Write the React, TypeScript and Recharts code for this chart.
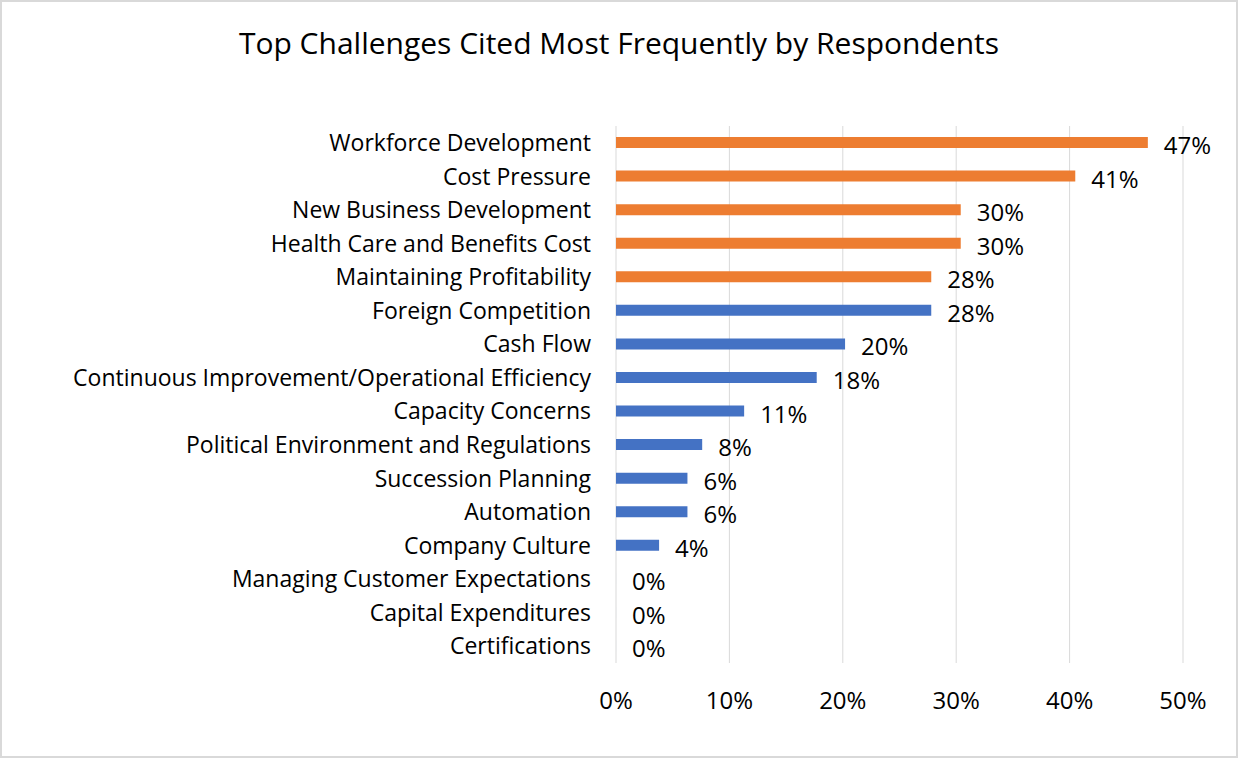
import React from 'react';
import { BarChart, Bar, XAxis, YAxis, CartesianGrid, Cell, LabelList } from 'recharts';

// challenges, ordered as in the chart (top to bottom)
const categories = [
  'Workforce Development',
  'Cost Pressure',
  'New Business Development',
  'Health Care and Benefits Cost',
  'Maintaining Profitability',
  'Foreign Competition',
  'Cash Flow',
  'Continuous Improvement/Operational Efficiency',
  'Capacity Concerns',
  'Political Environment and Regulations',
  'Succession Planning',
  'Automation',
  'Company Culture',
  'Managing Customer Expectations',
  'Capital Expenditures',
  'Certifications',
];

// share of respondents, in percent
const shares = [46.9, 40.5, 30.4, 30.4, 27.8, 27.8, 20.2, 17.7, 11.3, 7.6, 6.3, 6.3, 3.8, 0, 0, 0];

// 'top' = the five most cited challenges
const groups = [
  'top', 'top', 'top', 'top', 'top',
  'other', 'other', 'other', 'other', 'other', 'other', 'other', 'other', 'other', 'other', 'other',
];

const xTicks = [0, 10, 20, 30, 40, 50];

const GROUP_COLORS: Record<string, string> = {
  top: '#ED7D31',
  other: '#4472C4',
};

const FONT = '"Open Sans", sans-serif';

const data = categories.map((name, i) => ({ name, value: shares[i], group: groups[i] }));

// value label drawn just right of the bar end (also for zero-length bars)
const ValueLabel = (props: any) => {
  const { x, y, width, height, value } = props;
  if (value == null) return null;
  return (
    <text
      x={Number(x) + Number(width || 0) + 16}
      y={Number(y) + Number(height) / 2 + 2}
      dominantBaseline="central"
      fill="#000"
      fontSize={24}
      fontFamily={FONT}
    >
      {`${Math.round(Number(value))}%`}
    </text>
  );
};

export default function App() {
  return (
    <div style={{ position: 'absolute', left: 0, top: 0, width: 1238, height: 758, background: '#fff', fontFamily: FONT }}>
      <div
        style={{
          position: 'absolute',
          top: 22,
          left: 0,
          width: 1238,
          textAlign: 'center',
          fontSize: 30,
          lineHeight: '42px',
          color: '#000',
        }}
      >
        Top Challenges Cited Most Frequently by Respondents
      </div>
      <BarChart
        width={1238}
        height={758}
        data={data}
        layout="vertical"
        margin={{ top: 126, right: 55, bottom: 35, left: 0 }}
      >
        <CartesianGrid horizontal={false} stroke="#d9d9d9" />
        <XAxis
          type="number"
          domain={[0, 50]}
          ticks={xTicks}
          tickFormatter={v => `${v}%`}
          axisLine={false}
          tickLine={false}
          tickSize={0}
          tickMargin={29}
          height={60}
          tick={{ fill: '#000', fontSize: 24, fontFamily: FONT }}
        />
        <YAxis
          type="category"
          dataKey="name"
          width={616}
          axisLine={false}
          tickLine={false}
          tickSize={0}
          tickMargin={25}
          interval={0}
          tick={{ fill: '#000', fontSize: 23, fontFamily: FONT }}
        />
        <Bar dataKey="value" barSize={11} minPointSize={0.01} isAnimationActive={false}>
          {data.map((d, i) => (
            <Cell key={`cell-${i}`} fill={GROUP_COLORS[d.group]} />
          ))}
          <LabelList dataKey="value" content={ValueLabel} />
        </Bar>
      </BarChart>
      {/* chart frame */}
      <div
        style={{
          position: 'absolute',
          left: 0,
          top: 0,
          width: 1238,
          height: 758,
          boxSizing: 'border-box',
          border: '2px solid #d9d9d9',
          pointerEvents: 'none',
        }}
      />
    </div>
  );
}
